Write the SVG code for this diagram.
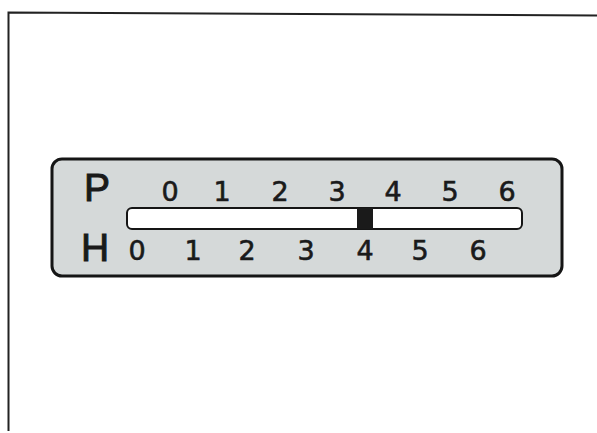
<svg xmlns="http://www.w3.org/2000/svg" width="597" height="433" viewBox="0 0 597 433">
<style>
.lbl{font-family:"DejaVu Sans","Liberation Sans",Arial,sans-serif;fill:#1a1a1a;stroke:#1a1a1a;stroke-width:0.6;text-anchor:middle}
.big{font-family:"Liberation Sans",Arial,sans-serif;font-size:39px;stroke-width:1}
.dig{font-size:27px}
</style>
<rect width="597" height="433" fill="#ffffff"/>
<g id="frame" fill="none" stroke="#222" stroke-width="2">
<path d="M8.5,431 L8.5,12.5 L597,15.5"/>
</g>
<g id="panel">
<rect x="52" y="159" width="510" height="117" rx="10" fill="#d5d9d9" stroke="#151515" stroke-width="3"/>
<text class="lbl big" x="97" y="201">P</text>
<text class="lbl big" x="95" y="261">H</text>
</g>
<g id="scale-p">
<text class="lbl dig" x="170" y="201">0</text>
<text class="lbl dig" x="222" y="201">1</text>
<text class="lbl dig" x="280" y="201">2</text>
<text class="lbl dig" x="337" y="201">3</text>
<text class="lbl dig" x="393" y="201">4</text>
<text class="lbl dig" x="450" y="201">5</text>
<text class="lbl dig" x="507" y="201">6</text>
</g>
<g id="bar">
<rect x="127" y="208" width="395" height="21" rx="5" fill="#ffffff" stroke="#151515" stroke-width="2"/>
<rect x="357" y="208" width="16" height="21" fill="#1a1a1a"/>
</g>
<g id="scale-h">
<text class="lbl dig" x="137" y="260">0</text>
<text class="lbl dig" x="193" y="260">1</text>
<text class="lbl dig" x="247" y="260">2</text>
<text class="lbl dig" x="306" y="260">3</text>
<text class="lbl dig" x="365" y="260">4</text>
<text class="lbl dig" x="420" y="260">5</text>
<text class="lbl dig" x="478" y="260">6</text>
</g>
<g id="connectors"/>
</svg>
